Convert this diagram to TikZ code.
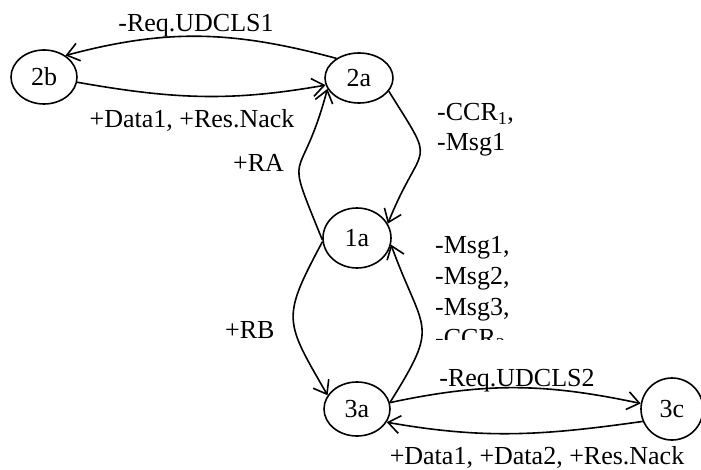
\documentclass[tikz,border=0pt]{standalone}
\usepackage{fontspec}
\setmainfont{Liberation Serif}
\usetikzlibrary{shapes.geometric,arrows.meta}
\begin{document}
\begin{tikzpicture}[x=1pt,y=1pt,
  state/.style={ellipse,draw,line width=1.6pt,inner sep=0pt},
  trans/.style={line width=1.6pt,-{Straight Barb[length=12pt,width=18pt,line width=1.6pt]}},
  lbl/.style={inner sep=0pt,align=left,anchor=west},
  every node/.style={font=\fontsize{26}{30}\selectfont}]
\useasboundingbox (0,0) rectangle (701,469);

% states
\node[state,minimum width=66pt,minimum height=54pt] (s2b) at (44,392) {2b};
\node[state,minimum width=68pt,minimum height=50pt] (s2a) at (359,391) {2a};
\node[state,minimum width=68pt,minimum height=60pt] (s1a) at (357,231) {1a};
\node[state,minimum width=66pt,minimum height=54pt] (s3a) at (357,60) {3a};
\node[state,minimum width=62pt,minimum height=62pt] (s3c) at (672,60) {3c};

% transitions between 2a and 2b
\draw[trans] (s2a.139) to[out=165,in=15] (s2b.45);
\draw[trans] (s2b.-9) to[out=-10,in=190] (s2a.192);

% transitions between 1a and 2a
\draw[trans] (s1a.183) to[out=112,in=-105,looseness=1.8] (s2a.199);
\draw[trans] (s2a.-24) to[out=-58,in=68,looseness=1.8] (s1a.25);

% transitions between 1a and 3a
\draw[trans] (s1a.186) to[out=242,in=120,looseness=1.45] (s3a.155);
\draw[trans] (s3a.11) to[out=58,in=-70,looseness=1.55] (s1a.-11);

% transitions between 3a and 3c
\draw[trans] (s3a.11) to[out=12,in=168] (s3c.170);
\draw[trans] (s3c.203) to[out=188,in=-10] (s3a.-24);

% transition labels
\node[anchor=center,inner sep=0pt] (l1) at (196,443) {-Req.UDCLS1};
\node[anchor=center,inner sep=0pt] (l2) at (192,349) {+Data1, +Res.Nack};
\node[lbl] (l3) at (233,306) {+RA};
\node[lbl] (l4) at (437,339) {-CCR\textsubscript{1},\\-Msg1};
\node[lbl] (l5) at (225,139) {+RB};
\begin{scope}
  \clip (420,130) rectangle (560,240);
  \node[lbl,anchor=north west,font=\fontsize{26}{31}\selectfont] (l6) at (435,233)
    {-Msg1,\\-Msg2,\\-Msg3,\\-CCR\textsubscript{2}};
\end{scope}
\node[anchor=center,inner sep=0pt] (l7) at (517,88) {-Req.UDCLS2};
\node[anchor=center,inner sep=0pt] (l8) at (537,12) {+Data1, +Data2, +Res.Nack};
\end{tikzpicture}
\end{document}
